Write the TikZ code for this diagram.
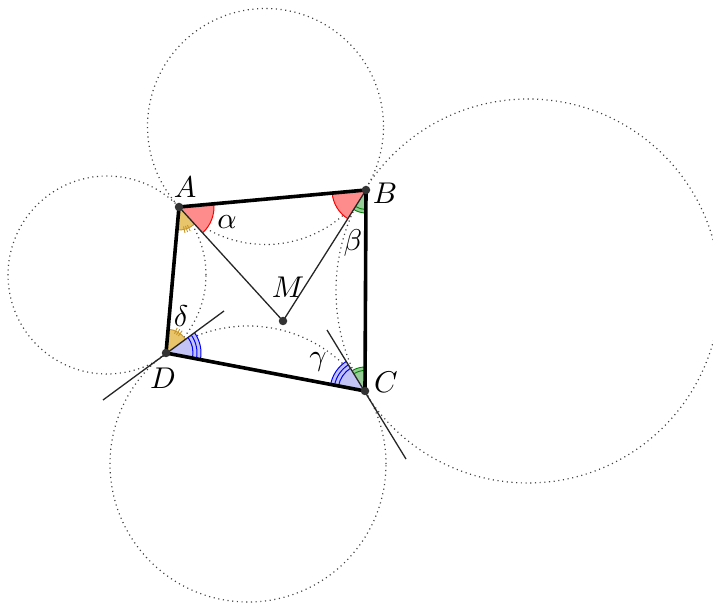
\documentclass[tikz,border=0pt]{standalone}
\usetikzlibrary{angles,calc}
\definecolor{angred}{RGB}{255,140,140}
\definecolor{anggreen}{RGB}{150,205,150}
\definecolor{angblue}{RGB}{195,195,245}
\definecolor{angyel}{RGB}{232,196,106}
\definecolor{yeldark}{RGB}{200,150,40}
\begin{document}
\begin{tikzpicture}[x=1pt,y=-1pt,
  circ/.style={draw=black!75,line width=1.2pt,dash pattern=on 1.1pt off 3.6pt},
  quad/.style={line width=3.6pt,line join=round},
  thin line/.style={line width=1.3pt,black!85},
  dot/.style={circle,fill=black!80,inner sep=0pt,minimum size=8.5pt},
  lbl/.style={scale=3,inner sep=0pt},
  tick/.style={yeldark,line width=0.9pt}]
\useasboundingbox (0,0) rectangle (713,604);
% points
\coordinate (A) at (179,207);
\coordinate (B) at (366,190);
\coordinate (C) at (365,391);
\coordinate (D) at (166,353);
\coordinate (M) at (283,321);
\coordinate (T1) at (224,311);
\coordinate (T2) at (103,400);
\coordinate (T3) at (327,330);
\coordinate (T4) at (406,459);
\coordinate (O1) at (265.5,126.5);
\coordinate (O2) at (107,275);
\coordinate (O3) at (528,291);
\coordinate (O4) at (248,464);
% dotted circles
\draw[circ] (O1) circle[radius=118pt];
\draw[circ] (O2) circle[radius=99pt];
\draw[circ] (O3) circle[radius=192pt];
\draw[circ] (O4) circle[radius=138pt];
% angles
\pic[draw=red,fill=angred,line width=1pt,angle radius=35pt] {angle=M--A--B};
\pic[draw=yeldark,fill=angyel,line width=0.9pt,angle radius=23pt] {angle=D--A--M};
\pic[draw=red,fill=angred,line width=1pt,angle radius=34pt] {angle=A--B--M};
\pic[draw=green!50!black,fill=anggreen,line width=0.9pt,angle radius=23pt] {angle=M--B--C};
\pic[draw=green!50!black,line width=0.9pt,angle radius=19.5pt] {angle=M--B--C};
\pic[draw=green!50!black,fill=anggreen,line width=0.9pt,angle radius=24pt] {angle=B--C--T3};
\pic[draw=green!50!black,line width=0.9pt,angle radius=20.5pt] {angle=B--C--T3};
\pic[draw=blue,fill=angblue,line width=1pt,angle radius=35pt] {angle=T3--C--D};
\pic[draw=blue,line width=1pt,angle radius=31pt] {angle=T3--C--D};
\pic[draw=blue,line width=1pt,angle radius=27pt] {angle=T3--C--D};
\pic[draw=blue,fill=angblue,line width=1pt,angle radius=35pt] {angle=C--D--T1};
\pic[draw=blue,line width=1pt,angle radius=31pt] {angle=C--D--T1};
\pic[draw=blue,line width=1pt,angle radius=27pt] {angle=C--D--T1};
\pic[draw=yeldark,fill=angyel,line width=0.9pt,angle radius=24pt] {angle=T1--D--A};
\foreach \a in {-77,-71,-65} \draw[tick] ($(A)+(\a:20pt)$) -- ($(A)+(\a:26.5pt)$);
\foreach \a in {54,60,66} \draw[tick] ($(D)+(\a:21pt)$) -- ($(D)+(\a:27.5pt)$);
% lines
\draw[thin line] (A) -- (M) -- (B);
\draw[thin line] (T2) -- (T1);
\draw[thin line] (T3) -- (T4);
\draw[quad] (A) -- (B) -- (C) -- (D) -- cycle;
% dots
\node[dot] (pA) at (A) {};
\node[dot] (pB) at (B) {};
\node[dot] (pC) at (C) {};
\node[dot] (pD) at (D) {};
\node[dot] (pM) at (M) {};
% labels
\node[lbl] (lA) at (185,187) {$A$};
\node[lbl] (lB) at (385,193) {$B$};
\node[lbl] (lC) at (386,382) {$C$};
\node[lbl] (lD) at (163,378) {$D$};
\node[lbl] (lM) at (288,287) {$M$};
\node[lbl] (la) at (227,222) {$\alpha$};
\node[lbl] (lb) at (353,243) {$\beta$};
\node[lbl] (lg) at (318,362) {$\gamma$};
\node[lbl] (ld) at (181,316) {$\delta$};
\end{tikzpicture}
\end{document}
